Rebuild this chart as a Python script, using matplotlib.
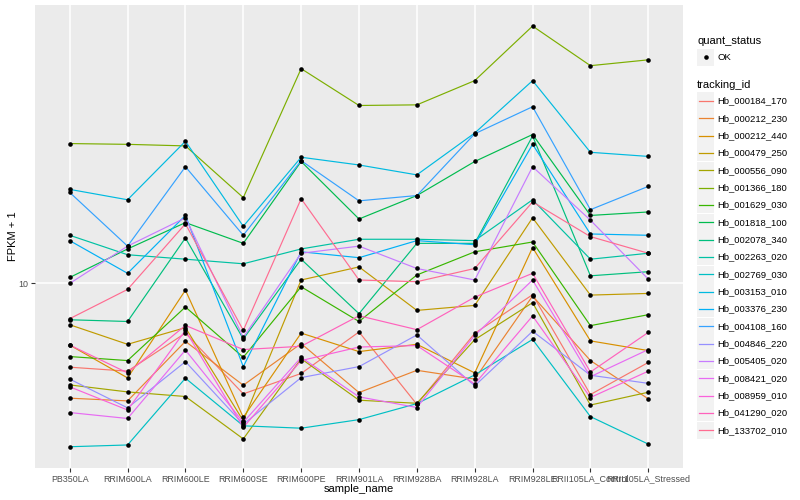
import matplotlib
matplotlib.use('Agg')
import matplotlib.pyplot as plt
from matplotlib.lines import Line2D
from matplotlib.patches import Rectangle

plt.rcParams['font.family'] = ['Liberation Sans', 'DejaVu Sans']

sample_names = ['PB350LA', 'RRIM600LA', 'RRIM600LE', 'RRIM600SE', 'RRIM600PE', 'RRIM901LA',
                'RRIM928BA', 'RRIM928LA', 'RRIM928LE', 'RRII105LA_Control', 'RRII105LA_Stressed']

tracking_ids = ['Hb_000184_170', 'Hb_000212_230', 'Hb_000212_440', 'Hb_000479_250', 'Hb_000556_090',
                'Hb_001366_180', 'Hb_001629_030', 'Hb_001818_100', 'Hb_002078_340', 'Hb_002263_020',
                'Hb_002769_030', 'Hb_003153_010', 'Hb_003376_230', 'Hb_004108_160', 'Hb_004846_220',
                'Hb_005405_020', 'Hb_008421_020', 'Hb_008959_010', 'Hb_041290_020', 'Hb_133702_010']

# FPKM + 1 per sample
hb_000184_170 = [6.17, 6.03, 7.51, 5.29, 5.95, 7.56, 4.98, 7.50, 9.37, 5.27, 6.34]
hb_000212_230 = [5.16, 5.08, 7.16, 5.56, 7.07, 5.33, 6.06, 5.76, 9.30, 6.41, 5.14]
hb_000212_440 = [7.01, 5.80, 9.62, 4.62, 7.51, 6.75, 7.04, 5.97, 12.3, 7.18, 6.79]
hb_000479_250 = [7.88, 7.04, 7.75, 4.53, 10.2, 11.0, 8.56, 8.81, 14.6, 9.35, 9.44]
hb_000556_090 = [5.57, 5.35, 5.21, 4.08, 6.48, 5.10, 5.01, 7.23, 8.95, 4.96, 5.34]
hb_001366_180 = [22.4, 22.3, 22.1, 16.4, 34.5, 27.9, 28.0, 32.2, 44.1, 35.1, 36.3]
hb_001629_030 = [6.56, 6.41, 8.73, 6.53, 9.81, 8.03, 10.5, 12.0, 12.7, 7.84, 8.35]
hb_001818_100 = [10.35, 12.2, 14.2, 12.6, 20.2, 14.5, 16.6, 20.2, 23.6, 14.8, 15.1]
hb_002078_340 = [8.11, 8.03, 13.0, 7.26, 11.5, 8.40, 12.6, 12.6, 23.4, 10.45, 10.7]
hb_002263_020 = [13.2, 11.8, 11.5, 11.2, 12.2, 12.9, 12.9, 12.8, 16.2, 11.5, 11.9]
hb_002769_030 = [3.90, 3.94, 5.79, 4.40, 4.34, 4.56, 5.00, 5.90, 7.24, 4.64, 3.96]
hb_003153_010 = [17.2, 16.2, 22.7, 13.9, 20.7, 19.8, 18.7, 23.8, 32.2, 21.3, 20.8]
hb_003376_230 = [12.8, 10.6, 14.8, 6.19, 12.0, 11.6, 12.8, 12.5, 22.3, 13.3, 13.2]
hb_004108_160 = [16.9, 12.4, 19.6, 13.2, 20.3, 16.1, 16.6, 23.7, 27.7, 15.3, 17.5]
hb_004846_220 = [5.76, 4.88, 6.37, 4.44, 5.81, 6.19, 7.43, 5.54, 7.59, 5.89, 5.62]
hb_005405_020 = [10.0, 12.4, 14.6, 7.33, 11.9, 12.4, 10.9, 10.2, 19.6, 14.4, 10.25]
hb_008421_020 = [4.75, 4.59, 6.81, 4.49, 6.53, 5.20, 4.89, 7.41, 10.2, 5.84, 6.83]
hb_008959_010 = [5.51, 4.82, 7.63, 4.36, 6.41, 6.93, 6.99, 5.60, 8.29, 5.18, 6.03]
hb_041290_020 = [7.01, 5.97, 7.85, 6.83, 6.96, 8.30, 7.66, 9.24, 10.6, 6.00, 7.54]
hb_133702_010 = [8.16, 9.66, 14.1, 7.63, 16.3, 10.2, 10.1, 10.9, 16.0, 13.1, 11.9]

series = [hb_000184_170, hb_000212_230, hb_000212_440, hb_000479_250, hb_000556_090,
          hb_001366_180, hb_001629_030, hb_001818_100, hb_002078_340, hb_002263_020,
          hb_002769_030, hb_003153_010, hb_003376_230, hb_004108_160, hb_004846_220,
          hb_005405_020, hb_008421_020, hb_008959_010, hb_041290_020, hb_133702_010]

# ggplot hue palette, 20 levels
colors = ['#F8766D', '#EA8331', '#D89000', '#C09B00', '#A3A500', '#7CAE00', '#39B600', '#00BB4E',
          '#00BF7D', '#00C1A3', '#00BFC4', '#00BAE0', '#00B0F6', '#35A2FF', '#9590FF', '#C77CFF',
          '#E76BF3', '#FA62DB', '#FF62BC', '#FF6C91']

W, H = 800, 500
fig = plt.figure(figsize=(W / 100, H / 100), dpi=100)
ax = fig.add_axes([35 / W, 1 - 468 / H, (683 - 35) / W, (468 - 5) / H])
ax.set_facecolor('#EBEBEB')
for s in ax.spines.values():
    s.set_visible(False)

xs = list(range(len(sample_names)))
for vals, c in zip(series, colors):
    ax.plot(xs, vals, color=c, lw=0.85, zorder=2)
for vals in series:
    ax.plot(xs, vals, 'o', color='black', ms=3.3, mew=0, zorder=3)

ax.set_yscale('log')
ax.set_ylim(3.45, 49.8)
ax.set_xlim(-0.6, len(sample_names) - 0.4)
ax.set_yticks([10])
ax.set_yticklabels(['10'])
ax.yaxis.set_minor_locator(matplotlib.ticker.NullLocator())
ax.set_xticks(xs)
ax.set_xticklabels(sample_names)
ax.grid(True, color='white', lw=1.1, zorder=1)
ax.set_axisbelow(True)
ax.tick_params(axis='both', length=2.7, width=0.8, color='#333333', labelsize=6.4,
               labelcolor='#4D4D4D', pad=2.0)
ax.set_xlabel('sample_name', fontsize=8, va='center')
ax.set_ylabel('FPKM + 1', fontsize=8, va='center')
ax.xaxis.set_label_coords(0.5, -(489.5 - 468) / 463)
ax.yaxis.set_label_coords(-(35 - 13) / 648, 0.5)


def px(x, y):
    return x / W, 1 - y / H


# legend: quant_status
fig.text(*px(697, 41), 'quant_status', fontsize=8, va='center', ha='left')
kx0, kw = 697, 17
fig.add_artist(Rectangle(px(kx0, 57.3 + kw / 2), kw / W, kw / H, transform=fig.transFigure,
                         facecolor='#F2F2F2', edgecolor='none'))
fig.add_artist(Line2D([px(kx0 + kw / 2, 0)[0]], [px(0, 57.3)[1]], marker='o', color='black',
                      ms=3.3, mew=0, transform=fig.transFigure))
fig.text(*px(717, 57.3), 'OK', fontsize=6.8, va='center', ha='left')

# legend: tracking_id
fig.text(*px(697, 84.5), 'tracking_id', fontsize=8, va='center', ha='left')
for i, (tid, c) in enumerate(zip(tracking_ids, colors)):
    yc = 101 + i * 17.33
    fig.add_artist(Rectangle(px(kx0, yc + kw / 2), kw / W, kw / H, transform=fig.transFigure,
                             facecolor='#F2F2F2', edgecolor='none'))
    fig.add_artist(Line2D([px(kx0 + 1.5, 0)[0], px(kx0 + kw - 1.5, 0)[0]], [px(0, yc)[1]] * 2,
                          color=c, lw=0.9, transform=fig.transFigure))
    fig.text(*px(717, yc), tid, fontsize=6.8, va='center', ha='left')

fig.savefig('out.png', dpi=100)
